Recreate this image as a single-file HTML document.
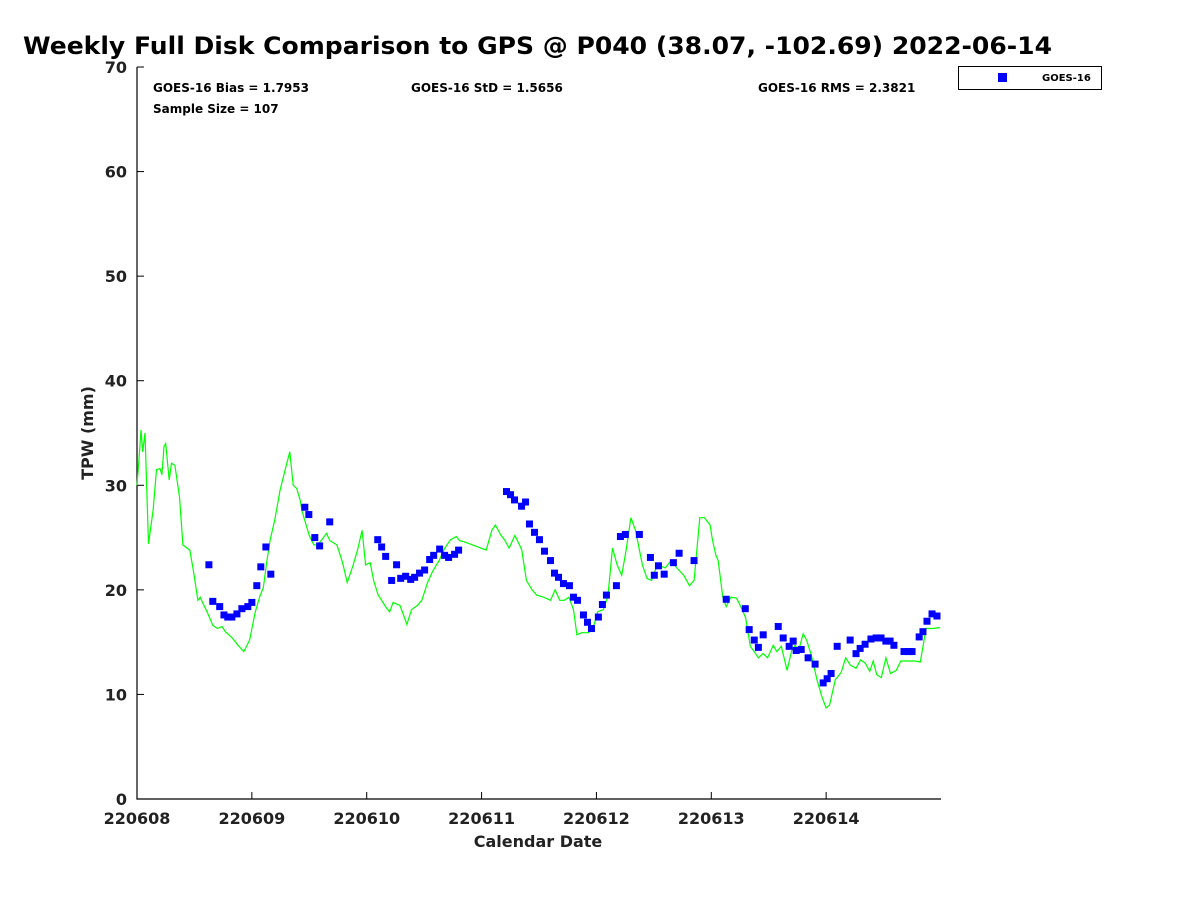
<!DOCTYPE html>
<html><head><meta charset="utf-8"><style>
body{margin:0;background:#fff;font-family:"Liberation Sans","DejaVu Sans",sans-serif}
svg text{font-family:"DejaVu Sans","Liberation Sans",sans-serif;font-weight:bold}
</style></head><body>
<svg id="chart" width="1200" height="900" viewBox="0 0 1200 900" xmlns="http://www.w3.org/2000/svg">
<rect width="1200" height="900" fill="#fff"/>
<text x="23" y="54" font-size="24" fill="#000" textLength="1029" lengthAdjust="spacingAndGlyphs">Weekly Full Disk Comparison to GPS @ P040 (38.07, -102.69) 2022-06-14</text>
<g id="axes"></g>
<g id="marks"></g>
<text x="153" y="92" font-size="12">GOES-16 Bias = 1.7953</text>
<text x="153" y="113" font-size="12">Sample Size = 107</text>
<text x="411" y="92" font-size="12">GOES-16 StD = 1.5656</text>
<text x="758" y="92" font-size="12">GOES-16 RMS = 2.3821</text>
<g>
<rect x="958.5" y="66.5" width="143" height="23" fill="#fff" stroke="#000" stroke-width="1"/>
<rect x="998" y="73" width="9" height="9" fill="#0000ff"/>
<text x="1042" y="81" font-size="10">GOES-16</text>
</g>
<text x="538" y="847" font-size="16" text-anchor="middle" fill="#222">Calendar Date</text>
<text transform="translate(93,433) rotate(-90)" font-size="16" text-anchor="middle" fill="#222">TPW (mm)</text>
</svg>
<script>
const xTickLabels=["220608","220609","220610","220611","220612","220613","220614"];
const yTickValues=[0,10,20,30,40,50,60,70];
const goesDays=[0.626,0.66,0.72,0.757,0.79,0.826,0.87,0.913,0.965,1.0,1.043,1.078,1.122,1.165,1.461,1.496,1.548,1.59,1.678,2.096,2.13,2.165,2.217,2.26,2.296,2.339,2.383,2.417,2.46,2.504,2.548,2.583,2.635,2.678,2.713,2.765,2.8,3.217,3.252,3.287,3.348,3.383,3.417,3.461,3.504,3.548,3.6,3.635,3.67,3.713,3.765,3.8,3.835,3.887,3.922,3.957,4.017,4.052,4.087,4.174,4.209,4.252,4.374,4.47,4.504,4.54,4.59,4.67,4.72,4.85,5.13,5.296,5.33,5.374,5.41,5.452,5.583,5.626,5.678,5.713,5.739,5.783,5.843,5.904,5.974,6.009,6.043,6.096,6.209,6.26,6.296,6.339,6.39,6.435,6.478,6.52,6.557,6.59,6.678,6.72,6.748,6.81,6.843,6.878,6.922,6.965];
const goesValues=[22.4,18.9,18.4,17.6,17.4,17.4,17.7,18.2,18.4,18.8,20.4,22.2,24.1,21.5,27.9,27.2,25.0,24.2,26.5,24.8,24.1,23.2,20.9,22.4,21.1,21.3,21.0,21.2,21.6,21.9,22.9,23.3,23.9,23.3,23.1,23.4,23.8,29.4,29.1,28.6,28.0,28.4,26.3,25.5,24.8,23.7,22.8,21.6,21.2,20.6,20.4,19.3,19.0,17.6,16.9,16.3,17.4,18.6,19.5,20.4,25.1,25.3,25.3,23.1,21.4,22.3,21.5,22.6,23.5,22.8,19.1,18.2,16.2,15.2,14.5,15.7,16.5,15.4,14.6,15.1,14.2,14.3,13.5,12.9,11.1,11.5,12.0,14.6,15.2,13.9,14.4,14.8,15.3,15.4,15.4,15.1,15.1,14.7,14.1,14.1,14.1,15.5,16.0,17.0,17.7,17.5];
const gpsDays=[0,0.02,0.035,0.05,0.07,0.1,0.14,0.17,0.2,0.217,0.235,0.25,0.28,0.3,0.33,0.37,0.4,0.46,0.49,0.53,0.55,0.57,0.61,0.66,0.7,0.74,0.77,0.83,0.88,0.93,0.98,1.03,1.07,1.1,1.13,1.16,1.2,1.245,1.29,1.33,1.36,1.39,1.42,1.44,1.5,1.54,1.57,1.61,1.65,1.68,1.74,1.79,1.83,1.88,1.92,1.96,1.99,2.03,2.06,2.1,2.13,2.17,2.2,2.23,2.29,2.32,2.35,2.39,2.44,2.48,2.53,2.57,2.63,2.68,2.73,2.78,2.81,2.85,3.04,3.09,3.12,3.17,3.2,3.24,3.29,3.33,3.35,3.39,3.44,3.48,3.54,3.6,3.64,3.68,3.72,3.76,3.8,3.83,3.87,3.93,3.97,4.01,4.06,4.1,4.14,4.18,4.22,4.26,4.3,4.34,4.4,4.44,4.48,4.53,4.6,4.65,4.7,4.76,4.81,4.85,4.9,4.94,4.99,5.01,5.04,5.06,5.1,5.13,5.17,5.22,5.27,5.3,5.34,5.38,5.41,5.45,5.49,5.54,5.57,5.61,5.66,5.7,5.73,5.76,5.8,5.83,5.87,5.92,5.96,6.0,6.03,6.08,6.13,6.17,6.21,6.26,6.3,6.34,6.38,6.41,6.44,6.48,6.52,6.56,6.61,6.65,6.72,6.77,6.82,6.87,6.93,6.99];
const gpsValues=[30.0,32.9,35.3,33.2,35.0,24.4,27.6,31.5,31.6,31.0,33.7,34.0,30.5,32.1,31.9,28.9,24.3,23.8,21.9,19.0,19.3,18.8,17.9,16.6,16.3,16.5,16.0,15.4,14.7,14.1,15.2,17.9,19.4,20.2,22.7,24.8,26.7,29.5,31.5,33.2,30.0,29.7,28.6,27.4,25.2,24.3,24.3,24.8,25.4,24.7,24.3,22.6,20.7,22.3,23.8,25.7,22.4,22.6,20.9,19.5,19.0,18.3,17.9,18.8,18.5,17.6,16.7,18.1,18.5,19.0,20.7,21.7,22.8,24.0,24.8,25.1,24.7,24.6,23.8,25.7,26.2,25.2,24.8,24.0,25.2,24.3,23.8,20.9,20.0,19.5,19.3,19.0,20.0,19.0,19.0,19.3,18.1,15.7,15.9,15.9,16.3,17.9,18.1,19.4,24.0,22.4,21.4,23.9,26.9,25.7,22.4,21.1,20.9,22.4,22.1,22.8,22.1,21.4,20.4,20.9,26.9,26.9,26.2,24.8,23.3,22.8,19.3,18.4,19.3,19.2,18.1,17.3,14.6,14.0,13.5,13.9,13.5,14.7,14.1,14.6,12.3,14.2,14.7,14.2,15.8,15.2,13.8,11.4,9.9,8.7,9.0,11.4,12.1,13.5,12.8,12.5,13.3,13.0,12.2,13.2,11.9,11.6,13.5,12.0,12.3,13.2,13.2,13.2,13.1,16.3,16.3,16.4];

const X0=137,X1=941,Y0=799,Y1=67,XMAX=7,YMAX=70;
function xs(d){return X0+(X1-X0)*d/XMAX;}
function ys(v){return Y0-(Y0-Y1)*v/YMAX;}
const NS="http://www.w3.org/2000/svg";
function mk(tag,attrs,parent){const e=document.createElementNS(NS,tag);for(const k in attrs)e.setAttribute(k,attrs[k]);parent.appendChild(e);return e;}
const axes=document.getElementById('axes'),marks=document.getElementById('marks');

const frame=mk('path',{d:`M${X0},${Y1} V${Y0} H${X1}`,fill:'none',stroke:'#000','stroke-width':1.2},axes);


yTickValues.forEach(v=>{
  const y=ys(v);
  const t=mk('line',{x1:X0,x2:X0+7,y1:y,y2:y,stroke:'#000'},axes);
  
  
  const l=mk('text',{x:X0-10,y:y+6,'font-size':16,'text-anchor':'end',fill:'#222'},axes);
  l.textContent=v;
  
  
});
xTickLabels.forEach((s,i)=>{
  const x=xs(i);
  const t=mk('line',{x1:x,x2:x,y1:Y0,y2:Y0-7,stroke:'#000'},axes);
  
  
  const l=mk('text',{x:x,y:Y0+25,'font-size':16,'text-anchor':'middle',fill:'#222'},axes);
  l.textContent=s;
  
  
});
const pts=gpsDays.map((d,i)=>xs(d).toFixed(1)+','+ys(gpsValues[i]).toFixed(1)).join(' ');
const line=mk('polyline',{points:pts,fill:'none',stroke:'#00ff00','stroke-width':1.2},marks);


goesDays.forEach((d,i)=>{
  const r=mk('rect',{x:xs(d)-3.5,y:ys(goesValues[i])-3.5,width:7,height:7,fill:'#0000ff'},marks);
  
  
});
</script>
</body></html>
